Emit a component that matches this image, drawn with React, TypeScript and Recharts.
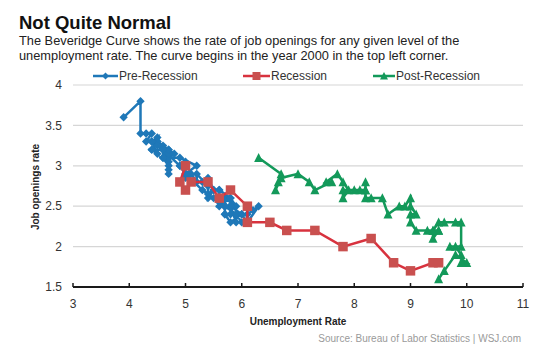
import React from 'react';
import { ScatterChart, Scatter, XAxis, YAxis, CartesianGrid, Label } from 'recharts';

const xTicks = [3, 4, 5, 6, 7, 8, 9, 10, 11];
const yTicks = [1.5, 2, 2.5, 3, 3.5, 4];

const seriesNames = ['Pre-Recession', 'Recession', 'Post-Recession'];

// Pre-Recession (Dec 2000 - Nov 2007): unemployment rate, job openings rate
const preUnemp = [
  3.9, 4.2, 4.2, 4.3, 4.4, 4.3, 4.5, 4.6, 4.9, 5.0, 5.3, 5.5, 5.7,
  5.7, 5.7, 5.7, 5.9, 5.8, 5.8, 5.8, 5.7, 5.7, 5.7, 5.9, 6.0,
  5.8, 5.9, 5.9, 6.0, 6.1, 6.3, 6.2, 6.1, 6.1, 6.0, 5.8, 5.7,
  5.7, 5.6, 5.8, 5.6, 5.6, 5.6, 5.5, 5.4, 5.4, 5.5, 5.4, 5.4,
  5.3, 5.4, 5.2, 5.2, 5.1, 5.0, 5.0, 4.9, 5.0, 5.0, 5.2, 4.9,
  4.7, 4.8, 4.7, 4.7, 4.6, 4.6, 4.7, 4.7, 4.5, 4.4, 4.5, 4.4,
  4.6, 4.5, 4.4, 4.5, 4.4, 4.6, 4.7, 4.6, 4.7, 4.7, 4.7,
];
const preOpen = [
  3.6, 3.8, 3.4, 3.4, 3.4, 3.3, 3.3, 3.2, 3.0, 2.9, 2.7, 2.6, 2.5,
  2.6, 2.5, 2.6, 2.5, 2.6, 2.4, 2.5, 2.5, 2.4, 2.5, 2.4, 2.4,
  2.5, 2.3, 2.4, 2.3, 2.3, 2.5, 2.45, 2.4, 2.3, 2.4, 2.3, 2.4,
  2.5, 2.5, 2.6, 2.7, 2.55, 2.7, 2.7, 2.6, 2.85, 2.7, 2.65, 2.8,
  2.8, 2.75, 2.9, 2.8, 2.9, 2.85, 3.0, 3.0, 3.05, 2.9, 3.0, 3.1,
  3.1, 3.15, 3.2, 3.1, 3.25, 3.1, 3.15, 3.2, 3.3, 3.2, 3.35, 3.3,
  3.2, 3.25, 3.3, 3.15, 3.2, 3.2, 3.05, 3.1, 3.0, 2.9, 2.95,
];

// Recession (Dec 2007 - Jun 2009)
const recUnemp = [5.0, 4.9, 5.0, 5.1, 5.4, 5.6, 5.8, 6.1, 6.1, 6.5, 6.8, 7.3, 7.8, 8.3, 8.7, 9.0, 9.4, 9.5];
const recOpen = [3.0, 2.8, 2.7, 2.8, 2.8, 2.6, 2.7, 2.5, 2.3, 2.3, 2.2, 2.2, 2.0, 2.1, 1.8, 1.7, 1.8, 1.8];

// Post-Recession (Jul 2009 onward)
const postUnemp = [
  9.5, 9.6, 9.8, 10.0, 9.9, 9.9, 9.8, 9.7, 9.9, 9.9, 9.8, 9.6, 9.5,
  9.4, 9.4, 9.5, 9.5, 9.4, 9.3, 9.1, 9.0, 9.0, 9.1, 9.0, 9.0, 8.9,
  8.8, 8.6, 8.5, 8.3, 8.2, 8.2, 8.2, 8.2, 8.1, 8.0, 7.8, 7.8, 7.9,
  7.8, 7.7, 7.5, 7.6, 7.3, 7.2, 7.0, 6.7, 6.6, 6.65, 6.7, 6.3,
];
const postOpen = [
  1.6, 1.7, 1.9, 1.8, 1.8, 1.9, 2.0, 2.0, 2.0, 2.3, 2.3, 2.3, 2.3,
  2.2, 2.1, 2.2, 2.2, 2.2, 2.2, 2.2, 2.3, 2.4, 2.4, 2.5, 2.6, 2.5,
  2.5, 2.4, 2.6, 2.6, 2.6, 2.8, 2.7, 2.7, 2.7, 2.7, 2.7, 2.6, 2.7,
  2.8, 2.9, 2.8, 2.8, 2.7, 2.8, 2.9, 2.85, 2.7, 2.8, 2.9, 3.1,
];

const colors = {
  pre: '#1f78b8',
  recLine: '#d8323e',
  recMark: '#c9504f',
  post: '#13995a',
};

const build = (u: number[], r: number[]) => u.map((v, i) => ({ u: v, r: r[i] }));
const preData = build(preUnemp, preOpen);
const recData = build(recUnemp, recOpen);
const postData = build(postUnemp, postOpen);

const Diamond = (p: any) => {
  const { cx, cy } = p;
  const r = 4.2;
  return <polygon points={`${cx},${cy - r} ${cx + r},${cy} ${cx},${cy + r} ${cx - r},${cy}`} fill={colors.pre} />;
};
const Square = (p: any) => {
  const { cx, cy } = p;
  const s = 9.5;
  return <rect x={cx - s / 2} y={cy - s / 2} width={s} height={s} fill={colors.recMark} />;
};
const Triangle = (p: any) => {
  const { cx, cy } = p;
  const w = 9;
  const h = 8.5;
  return <polygon points={`${cx},${cy - h / 2 - 0.5} ${cx + w / 2},${cy + h / 2} ${cx - w / 2},${cy + h / 2}`} fill={colors.post} />;
};

const font = '"Liberation Sans", Arial, Helvetica, sans-serif';

export default function App() {
  return (
    <div style={{ position: 'absolute', left: 0, top: 0, width: 548, height: 358, background: '#fff', fontFamily: font }}>
      <ScatterChart width={548} height={358} margin={{ top: 85, right: 25, bottom: 31, left: 0 }} style={{ fontFamily: font }}>
        <CartesianGrid vertical={false} stroke="#d6d6d6" strokeWidth={1.2} />
        <XAxis
          type="number"
          dataKey="u"
          domain={[3, 11]}
          ticks={xTicks}
          allowDataOverflow
          height={40}
          axisLine={{ stroke: '#1a1a1a', strokeWidth: 2 }}
          tickLine={{ stroke: '#1a1a1a', strokeWidth: 1.5 }}
          tickSize={-4}
          tickMargin={16}
          tick={{ fontSize: 12, fill: '#333' }}
        >
          <Label
            content={(props: any) => {
              const vb = props.viewBox || {};
              return (
                <text x={vb.x + vb.width / 2} y={325} textAnchor="middle" fontSize={10} fontWeight="bold" fill="#222">
                  Unemployment Rate
                </text>
              );
            }}
          />
        </XAxis>
        <YAxis
          type="number"
          dataKey="r"
          domain={[1.5, 4]}
          ticks={yTicks}
          allowDataOverflow
          width={73}
          axisLine={false}
          tickLine={false}
          tickSize={6}
          tickMargin={5}
          tick={{ fontSize: 12, fill: '#333' }}
        >
          <Label
            content={(props: any) => {
              const vb = props.viewBox || {};
              const cy = vb.y + vb.height / 2 + 1;
              return (
                <text x={35} y={cy} transform={`rotate(-90, 35, ${cy})`} textAnchor="middle" dominantBaseline="central" fontSize={10} fontWeight="bold" fill="#222">
                  Job openings rate
                </text>
              );
            }}
          />
        </YAxis>
        <Scatter
          name={seriesNames[0]}
          data={preData}
          line={{ stroke: colors.pre, strokeWidth: 2.5 }}
          lineType="joint"
          shape={Diamond}
          fill={colors.pre}
          isAnimationActive={false}
        />
        <Scatter
          name={seriesNames[1]}
          data={recData}
          line={{ stroke: colors.recLine, strokeWidth: 2.5 }}
          lineType="joint"
          shape={Square}
          fill={colors.recMark}
          isAnimationActive={false}
        />
        <Scatter
          name={seriesNames[2]}
          data={postData}
          line={{ stroke: colors.post, strokeWidth: 2.5 }}
          lineType="joint"
          shape={Triangle}
          fill={colors.post}
          isAnimationActive={false}
        />
      </ScatterChart>
      <svg width={548} height={358} style={{ position: 'absolute', left: 0, top: 0, pointerEvents: 'none' }}>
        <text x={19} y={29} fontSize={18.5} fontWeight="bold" fill="#111" fontFamily={font}>Not Quite Normal</text>
        <text x={19} y={45} fontSize={12.8} fill="#222" fontFamily={font}>
          The Beveridge Curve shows the rate of job openings for any given level of the
        </text>
        <text x={19} y={60} fontSize={12.8} fill="#222" fontFamily={font}>
          unemployment rate. The curve begins in the year 2000 in the top left corner.
        </text>
        {/* legend */}
        <g fontFamily={font} fontSize={12} fill="#333">
          <line x1={93} x2={118} y1={76} y2={76} stroke={colors.pre} strokeWidth={2.5} />
          <polygon points="105.5,72.5 109,76 105.5,79.5 102,76" fill={colors.pre} />
          <text x={119} y={80}>{seriesNames[0]}</text>
          <line x1={243} x2={270} y1={76} y2={76} stroke={colors.recLine} strokeWidth={2.5} />
          <rect x={252.5} y={72} width={8} height={8} fill={colors.recMark} />
          <text x={271} y={80}>{seriesNames[1]}</text>
          <line x1={373} x2={395} y1={76} y2={76} stroke={colors.post} strokeWidth={2.5} />
          <polygon points="384,72 388,79.5 380,79.5" fill={colors.post} />
          <text x={396} y={80}>{seriesNames[2]}</text>
        </g>
        <text x={521} y={342} textAnchor="end" fontSize={10} fill="#9a9a9a" fontFamily={font}>
          Source: Bureau of Labor Statistics  |  WSJ.com
        </text>
      </svg>
    </div>
  );
}
